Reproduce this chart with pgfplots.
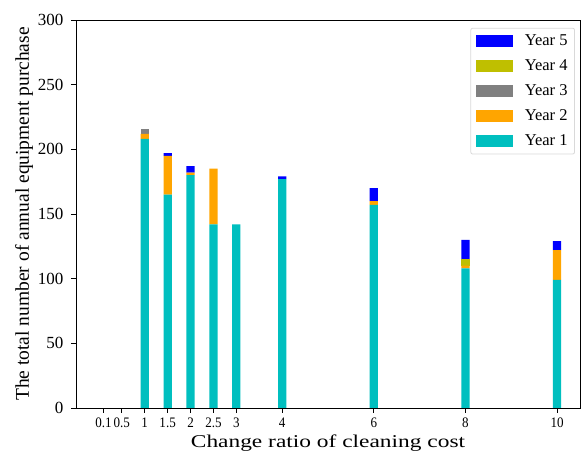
\documentclass[border=0pt]{standalone}
\usepackage{pgfplots}
\usepackage{pgfplotstable}
\pgfplotsset{compat=1.18}
\usepackage{fontspec}
\setmainfont{Liberation Serif}

\definecolor{yrone}{RGB}{0,191,191}
\definecolor{yrtwo}{RGB}{255,165,0}
\definecolor{yrthree}{RGB}{128,128,128}
\definecolor{yrfour}{RGB}{191,191,0}
\definecolor{yrfive}{RGB}{0,0,255}

% annual purchases per year for each cleaning-cost ratio
\pgfplotstableread{
x    y1   y2  y3  y4  y5
0.1  0    0   0   0   0
0.5  0    0   0   0   0
1    208  4   4   0   0
1.5  165  30  0   0   2
2    180  2   0   0   5
2.5  142  43  0   0   0
3    142  0   0   0   0
4    177  0   0   0   2
6    157  3   0   0   10
8    108  2   0   5   15
10   99   23  0   0   7
}\purchase

\begin{document}
\begin{tikzpicture}
\begin{axis}[
  name=main,
  scale only axis,
  width=504pt, height=388pt,
  ybar stacked,
  bar width=0.18,
  xmin=-0.5, xmax=10.5,
  ymin=0, ymax=300,
  xtick={0.1,0.5,1,1.5,2,2.5,3,4,6,8,10},
  xticklabels={0.1,0.5,1,1.5,2,2.5,3,4,6,8,10},
  ytick={0,50,...,300},
  tick align=outside,
  tick pos=left,
  major tick length=5pt,
  tick style={black, line width=0.8pt},
  axis line style={black, line width=0.8pt},
  /pgf/number format/assume math mode=true,
  xticklabel style={font=\fontsize{14.5}{16}\selectfont, xscale=0.9, yshift=-1pt},
  yticklabel style={font=\fontsize{17}{19}\selectfont, xshift=-4pt},
  xlabel={Change ratio of cleaning cost},
  ylabel={The total number of annual equipment purchase},
  xlabel style={font=\fontsize{18}{20}\selectfont, xscale=1.3, yshift=-1pt},
  ylabel style={font=\fontsize{19.5}{21}\selectfont, yshift=-2pt},
  reverse legend,
  legend cell align=left,
  legend style={
    at={(rel axis cs:0.99,0.98)}, anchor=north east,
    font=\fontsize{16.5}{18}\selectfont,
    draw=black!15, rounded corners=2pt, line width=0.8pt,
    inner xsep=5pt, inner ysep=5pt,
    row sep=8.5pt,
    /tikz/every odd column/.append style={column sep=10pt},
  },
  legend image code/.code={\fill[#1, sharp corners] (0pt,-6pt) rectangle (37pt,6pt);},
]
\addplot[fill=yrone, draw=none] table[x=x, y=y1] {\purchase};
\addlegendentry{Year 1}
\addplot[fill=yrtwo, draw=none] table[x=x, y=y2] {\purchase};
\addlegendentry{Year 2}
\addplot[fill=yrthree, draw=none] table[x=x, y=y3] {\purchase};
\addlegendentry{Year 3}
\addplot[fill=yrfour, draw=none] table[x=x, y=y4] {\purchase};
\addlegendentry{Year 4}
\addplot[fill=yrfive, draw=none] table[x=x, y=y5] {\purchase};
\addlegendentry{Year 5}
\end{axis}
% page margins around the plot area
\useasboundingbox ([xshift=-76pt, yshift=-54pt]main.south west) rectangle ([xshift=2pt, yshift=20pt]main.north east);
\end{tikzpicture}
\end{document}
